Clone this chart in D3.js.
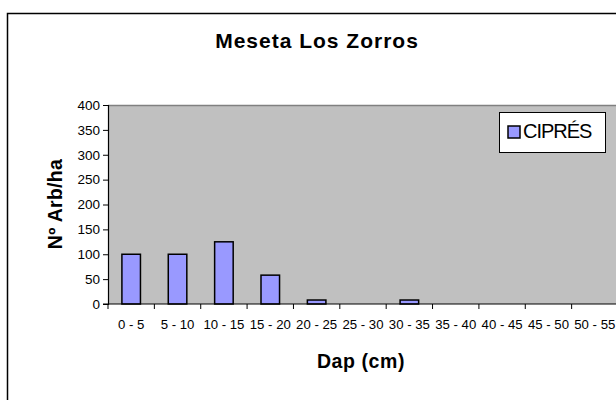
<!DOCTYPE html>
<html><head><meta charset="utf-8">
<script src="https://cdn.jsdelivr.net/npm/d3@7"></script>
<style>body{margin:0;background:#fff;}svg{display:block;font-family:"Liberation Sans",Arial,sans-serif;}</style>
</head><body>
<svg id="c" width="616" height="400"></svg>
<script>
const categories = ["0 - 5","5 - 10","10 - 15","15 - 20","20 - 25","25 - 30","30 - 35","35 - 40","40 - 45","45 - 50","50 - 55"];
const cipres = [100,100,125,58,8,0,8,0,0,0,0];
const yTicks = [0,50,100,150,200,250,300,350,400];
const seriesName = "CIPRÉS";

const svg = d3.select("#c");
const m = {left:108, right:618, top:105, bottom:304};

svg.append("rect").attr("x",7.5).attr("y",13.5).attr("width",640).attr("height",420)
  .attr("fill","#fff").attr("stroke","#000").attr("stroke-width",1.5);

const x = d3.scaleBand().domain(categories).range([m.left,m.right]);
const y = d3.scaleLinear().domain([0,400]).range([m.bottom,m.top]);

svg.append("rect").attr("x",m.left).attr("y",m.top).attr("width",m.right-m.left).attr("height",m.bottom-m.top)
  .attr("fill","#c0c0c0");
svg.append("line").attr("x1",m.left).attr("x2",m.right).attr("y1",m.top+0.5).attr("y2",m.top+0.5)
  .attr("stroke","#808080").attr("stroke-width",1.5);

const bw = x.bandwidth()/2.5;
const barData = cipres.map((v,i)=>({c:categories[i],v})).filter(d=>d.v>0);
svg.append("g").selectAll("rect").data(barData)
  .join("rect")
  .attr("x",d=>x(d.c)+x.bandwidth()/2-bw/2).attr("width",bw)
  .attr("y",d=>y(d.v)).attr("height",d=>y(0)-y(d.v))
  .attr("fill","#9999ff").attr("stroke","#000").attr("stroke-width",1.5);

// y axis
const ya = svg.append("g").attr("transform",`translate(${m.left},0)`)
  .call(d3.axisLeft(y).tickValues(yTicks).tickSize(5).tickPadding(3));
ya.select(".domain").attr("stroke","#000").attr("stroke-width",1.2);
ya.selectAll("text").attr("font-size",13.5).attr("fill","#000").attr("font-family","Liberation Sans, Arial, sans-serif");

// x axis
const xa = svg.append("g").attr("transform",`translate(0,${m.bottom})`)
  .call(d3.axisBottom(x).tickSize(0).tickPadding(16));
xa.select(".domain").remove();
xa.selectAll("text").attr("font-size",13.2).attr("fill","#000").attr("font-family","Liberation Sans, Arial, sans-serif");
svg.append("line").attr("x1",m.left-5).attr("x2",m.right).attr("y1",m.bottom).attr("y2",m.bottom)
  .attr("stroke","#000").attr("stroke-width",1.2);
svg.append("g").selectAll("line").data(categories.concat(["end"])).join("line")
  .attr("x1",(d,i)=>m.left+i*x.bandwidth()).attr("x2",(d,i)=>m.left+i*x.bandwidth())
  .attr("y1",m.bottom).attr("y2",m.bottom+5).attr("stroke","#000");

svg.append("text").attr("x",317).attr("y",48).attr("text-anchor","middle")
  .attr("font-size",21).attr("font-weight","bold").attr("letter-spacing",1).text("Meseta Los Zorros");
svg.append("text").attr("x",361).attr("y",368).attr("text-anchor","middle")
  .attr("font-size",19.5).attr("font-weight","bold").attr("letter-spacing",0.6).text("Dap (cm)");
svg.append("text").attr("transform",`translate(62,204) rotate(-90)`).attr("text-anchor","middle")
  .attr("font-size",19.5).attr("font-weight","bold").attr("letter-spacing",0.3).text("Nº Arb/ha");

// legend
const lg = svg.append("g");
lg.append("rect").attr("x",499.5).attr("y",112.5).attr("width",106).attr("height",40)
  .attr("fill","#fff").attr("stroke","#000").attr("stroke-width",1);
lg.append("rect").attr("x",508).attr("y",126).attr("width",12).attr("height",12)
  .attr("fill","#9999ff").attr("stroke","#000").attr("stroke-width",1.5);
lg.append("text").attr("x",523).attr("y",138).attr("font-size",20).attr("letter-spacing",-1).text(seriesName);
</script>
</body></html>
